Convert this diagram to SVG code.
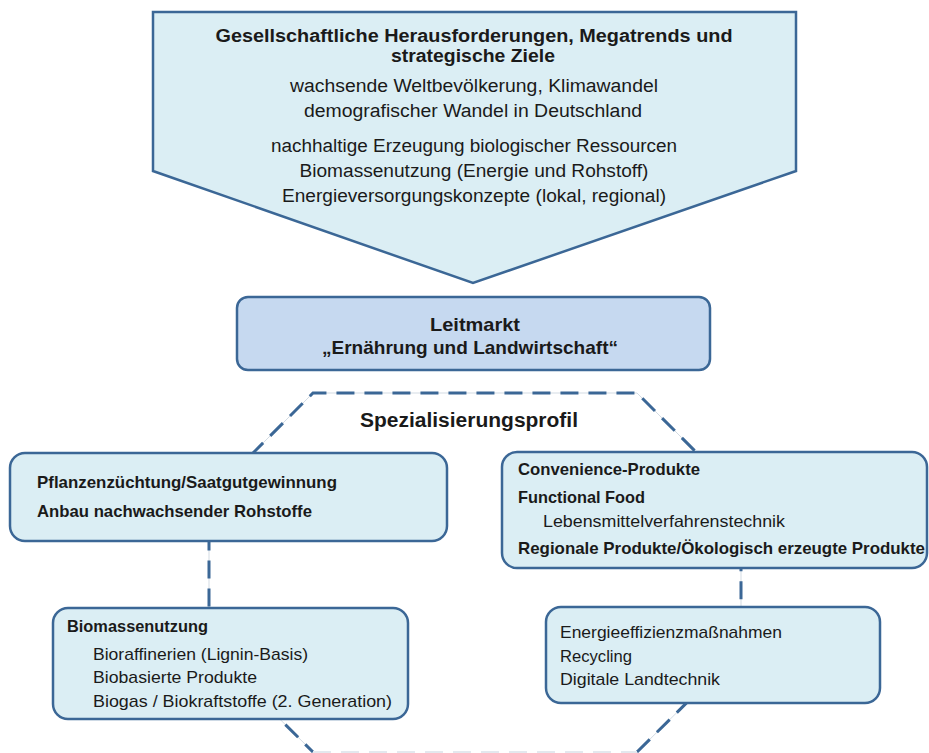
<svg xmlns="http://www.w3.org/2000/svg" width="929" height="753" viewBox="0 0 929 753">
<style>
.box{fill:#dbeef4;stroke:#3b6796;stroke-width:2.5}
.lm{fill:#c6d9f0;stroke:#3b6796;stroke-width:2.5}
.t{font-family:"Liberation Sans",Arial,sans-serif;fill:#1a1a1a}
.b{font-weight:bold}
.c{text-anchor:middle}
.dash{fill:none;stroke:#3b6796;stroke-width:3;stroke-dasharray:18 10}
.under{fill:none;stroke:#d3dbe3;stroke-width:1}
.faint{fill:none;stroke:#e3e8ee;stroke-width:2;stroke-dasharray:18 10}
</style>
<rect width="929" height="753" fill="#ffffff"/>
<g id="connectors">
<path class="under" d="M637,752 L741,649 L741,497 L637,393 L313,393 L209,497 L209,649 L313,752"/>
<path class="dash" d="M637,752 L741,649 L741,497 L637,393 L313,393 L209,497 L209,649 L313,752"/>
<path class="faint" d="M313,752 L637,752"/>
</g>
<g id="challenges">
<path class="box" d="M153,12 L796,12 L796,171 L473,283 L153,171 Z"/>
<text class="t b c" x="474" y="42" font-size="18" textLength="517" lengthAdjust="spacingAndGlyphs">Gesellschaftliche Herausforderungen, Megatrends und</text>
<text class="t b c" x="473" y="62" font-size="18" textLength="164" lengthAdjust="spacingAndGlyphs">strategische Ziele</text>
<text class="t c" x="474" y="92" font-size="18" textLength="368" lengthAdjust="spacingAndGlyphs">wachsende Weltbevölkerung, Klimawandel</text>
<text class="t c" x="473" y="117" font-size="18" textLength="338" lengthAdjust="spacingAndGlyphs">demografischer Wandel in Deutschland</text>
<text class="t c" x="474" y="152" font-size="18" textLength="406" lengthAdjust="spacingAndGlyphs">nachhaltige Erzeugung biologischer Ressourcen</text>
<text class="t c" x="474" y="177" font-size="18" textLength="349" lengthAdjust="spacingAndGlyphs">Biomassenutzung (Energie und Rohstoff)</text>
<text class="t c" x="474" y="202" font-size="18" textLength="384" lengthAdjust="spacingAndGlyphs">Energieversorgungskonzepte (lokal, regional)</text>
</g>
<g id="leitmarkt">
<rect class="lm" x="237" y="297" width="473" height="73" rx="11"/>
<text class="t b c" x="475" y="331" font-size="19" textLength="90" lengthAdjust="spacingAndGlyphs">Leitmarkt</text>
<text class="t b c" x="470" y="354" font-size="19" textLength="296" lengthAdjust="spacingAndGlyphs">„Ernährung und Landwirtschaft“</text>
</g>
<g id="profil">
<text class="t b c" x="469" y="427" font-size="20" textLength="218" lengthAdjust="spacingAndGlyphs">Spezialisierungsprofil</text>
</g>
<g id="pflanzen">
<rect class="box" x="10" y="453" width="437" height="88" rx="15"/>
<text class="t b" x="37" y="488" font-size="17" textLength="300" lengthAdjust="spacingAndGlyphs">Pflanzenzüchtung/Saatgutgewinnung</text>
<text class="t b" x="37" y="517" font-size="17" textLength="275" lengthAdjust="spacingAndGlyphs">Anbau nachwachsender Rohstoffe</text>
</g>
<g id="convenience">
<rect class="box" x="502" y="452" width="425" height="116" rx="15"/>
<text class="t b" x="518" y="475" font-size="17" textLength="182" lengthAdjust="spacingAndGlyphs">Convenience-Produkte</text>
<text class="t b" x="518" y="503" font-size="17" textLength="127" lengthAdjust="spacingAndGlyphs">Functional Food</text>
<text class="t" x="543" y="527" font-size="16.5" textLength="242" lengthAdjust="spacingAndGlyphs">Lebensmittelverfahrenstechnik</text>
<text class="t b" x="518" y="554" font-size="17" textLength="407" lengthAdjust="spacingAndGlyphs">Regionale Produkte/Ökologisch erzeugte Produkte</text>
</g>
<g id="biomasse">
<rect class="box" x="53" y="608" width="355" height="111" rx="15"/>
<text class="t b" x="67" y="632" font-size="17" textLength="141" lengthAdjust="spacingAndGlyphs">Biomassenutzung</text>
<text class="t" x="93" y="660" font-size="17" textLength="215" lengthAdjust="spacingAndGlyphs">Bioraffinerien (Lignin-Basis)</text>
<text class="t" x="93" y="683" font-size="17" textLength="164" lengthAdjust="spacingAndGlyphs">Biobasierte Produkte</text>
<text class="t" x="93" y="707" font-size="17" textLength="299" lengthAdjust="spacingAndGlyphs">Biogas / Biokraftstoffe (2. Generation)</text>
</g>
<g id="energie">
<rect class="box" x="546" y="607" width="334" height="96" rx="15"/>
<text class="t" x="560" y="638" font-size="17" textLength="222" lengthAdjust="spacingAndGlyphs">Energieeffizienzmaßnahmen</text>
<text class="t" x="560" y="662" font-size="17" textLength="72" lengthAdjust="spacingAndGlyphs">Recycling</text>
<text class="t" x="560" y="685" font-size="17" textLength="160" lengthAdjust="spacingAndGlyphs">Digitale Landtechnik</text>
</g>
</svg>
